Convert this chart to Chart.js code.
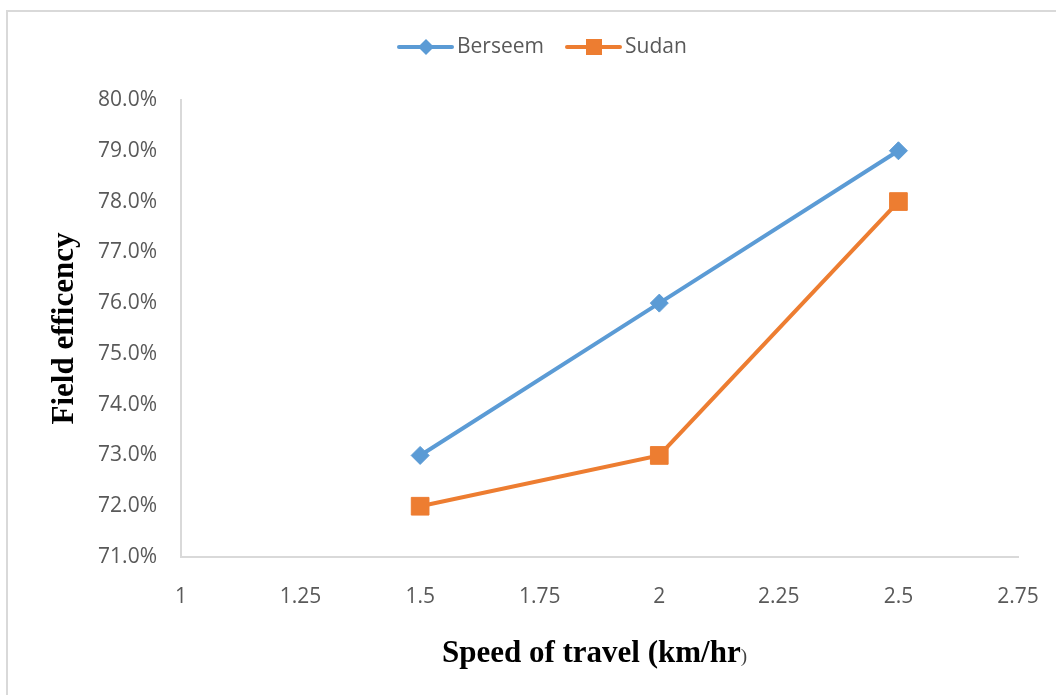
<!DOCTYPE html>
<html>
<head>
<meta charset="utf-8">
<script src="https://cdn.jsdelivr.net/npm/chart.js@4/dist/chart.umd.min.js"></script>
<style>
  html, body { margin: 0; padding: 0; background: #fff; }
  #wrap { width: 1056px; height: 695px; position: relative; }
</style>
</head>
<body>
<div id="wrap"><canvas id="c" width="1056" height="695"></canvas></div>
<script>
// Travel speed (km/hr) and field efficiency (%) for each crop
const speeds = [1.5, 2, 2.5];
const berseem = [73.0, 76.0, 79.0];
const sudan = [72.0, 73.0, 78.0];
const seriesNames = ['Berseem', 'Sudan'];
const xTicks = [1, 1.25, 1.5, 1.75, 2, 2.25, 2.5, 2.75];
const yTicks = [71, 72, 73, 74, 75, 76, 77, 78, 79, 80];

const BLUE = '#5b9bd5';
const ORANGE = '#ed7d31';
const TICK_FONT = '"Open Sans", "Liberation Sans", sans-serif';
const TITLE_FONT = '"Liberation Serif", "Times New Roman", serif';

// Outer frame, legend and axis titles
const decor = {
  id: 'decor',
  beforeDraw(chart) {
    const ctx = chart.ctx;
    ctx.save();
    ctx.fillStyle = '#fff';
    ctx.fillRect(0, 0, chart.width, chart.height);
    ctx.strokeStyle = '#d9d9d9';
    ctx.lineWidth = 2;
    ctx.beginPath();
    ctx.moveTo(7, chart.height);
    ctx.lineTo(7, 11);
    ctx.lineTo(chart.width, 11);
    ctx.stroke();
    ctx.restore();
  },
  afterDraw(chart) {
    const ctx = chart.ctx;
    const area = chart.chartArea;
    ctx.save();
    // legend
    const items = [
      { name: seriesNames[0], color: BLUE, style: 'diamond', x0: 399 },
      { name: seriesNames[1], color: ORANGE, style: 'square', x0: 567 }
    ];
    const ly = 47;
    items.forEach(it => {
      ctx.strokeStyle = it.color;
      ctx.lineWidth = 4;
      ctx.lineCap = 'round';
      ctx.beginPath();
      ctx.moveTo(it.x0, ly);
      ctx.lineTo(it.x0 + 53, ly);
      ctx.stroke();
      ctx.fillStyle = it.color;
      const cx = it.x0 + 27;
      ctx.beginPath();
      if (it.style === 'diamond') {
        ctx.moveTo(cx, ly - 8); ctx.lineTo(cx + 8, ly); ctx.lineTo(cx, ly + 8); ctx.lineTo(cx - 8, ly);
      } else {
        ctx.rect(cx - 8, ly - 8, 16, 16);
      }
      ctx.closePath();
      ctx.fill();
      ctx.fillStyle = '#595959';
      ctx.font = '21px ' + TICK_FONT;
      ctx.textAlign = 'left';
      ctx.textBaseline = 'middle';
      ctx.fillText(it.name, it.x0 + 58, ly);
    });
    // x axis title (closing bracket set smaller and lighter)
    ctx.fillStyle = '#000';
    ctx.textBaseline = 'alphabetic';
    ctx.font = 'bold 31px ' + TITLE_FONT;
    const main = 'Speed of travel (km/hr';
    const tail = ')';
    const wMain = ctx.measureText(main).width;
    ctx.font = '19px ' + TITLE_FONT;
    const wTail = ctx.measureText(tail).width;
    const cxTitle = (area.left + area.right) / 2 - 5;
    const startX = cxTitle - (wMain + wTail) / 2;
    ctx.font = 'bold 31px ' + TITLE_FONT;
    ctx.textAlign = 'left';
    ctx.fillText(main, startX, 662);
    ctx.fillStyle = '#404040';
    ctx.font = '19px ' + TITLE_FONT;
    ctx.fillText(tail, startX + wMain, 662);
    // y axis title
    ctx.fillStyle = '#000';
    ctx.translate(73, (area.top + area.bottom) / 2);
    ctx.rotate(-Math.PI / 2);
    ctx.font = 'bold 31px ' + TITLE_FONT;
    ctx.textAlign = 'center';
    ctx.fillText('Field efficency', 0, 0);
    ctx.restore();
  }
};

new Chart(document.getElementById('c'), {
  type: 'line',
  data: {
    datasets: [
      {
        label: seriesNames[0],
        data: speeds.map((s, i) => ({ x: s, y: berseem[i] })),
        borderColor: BLUE,
        backgroundColor: BLUE,
        borderWidth: 4,
        pointStyle: 'rectRot',
        pointRadius: 9,
        pointBorderWidth: 1,
        pointHoverRadius: 9,
        tension: 0
      },
      {
        label: seriesNames[1],
        data: speeds.map((s, i) => ({ x: s, y: sudan[i] })),
        borderColor: ORANGE,
        backgroundColor: ORANGE,
        borderWidth: 4,
        pointStyle: 'rect',
        pointRadius: 12.5,
        pointBorderWidth: 1,
        pointHoverRadius: 12.5,
        tension: 0
      }
    ]
  },
  options: {
    responsive: false,
    animation: false,
    events: [],
    layout: { padding: { top: 100, right: 38, left: 0, bottom: 0 } },
    plugins: { legend: { display: false }, title: { display: false }, tooltip: { enabled: false } },
    scales: {
      x: {
        type: 'linear',
        min: xTicks[0],
        max: xTicks[xTicks.length - 1],
        afterBuildTicks(scale) { scale.ticks = xTicks.map(v => ({ value: v })); },
        afterFit(scale) { scale.height = 138; scale.paddingLeft = 0; scale.paddingRight = 0; },
        grid: { display: false, drawTicks: false },
        border: { display: true, color: '#d9d9d9', width: 2 },
        ticks: {
          padding: 27,
          color: '#595959',
          font: { family: TICK_FONT, size: 21 },
          maxRotation: 0,
          callback: v => String(v)
        }
      },
      y: {
        type: 'linear',
        min: yTicks[0],
        max: yTicks[yTicks.length - 1],
        afterBuildTicks(scale) { scale.ticks = yTicks.map(v => ({ value: v })); },
        afterFit(scale) { scale.width = 181; scale.paddingTop = 0; scale.paddingBottom = 0; },
        grid: { display: false, drawTicks: false },
        border: { display: true, color: '#d9d9d9', width: 2 },
        ticks: {
          padding: 24,
          color: '#595959',
          font: { family: TICK_FONT, size: 21 },
          callback: v => v.toFixed(1) + '%'
        }
      }
    }
  },
  plugins: [decor]
});
</script>
</body>
</html>
